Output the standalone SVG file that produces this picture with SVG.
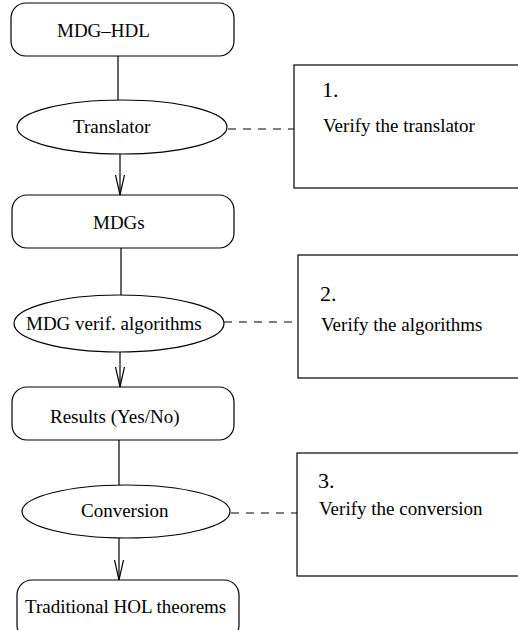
<svg xmlns="http://www.w3.org/2000/svg" width="518" height="630" viewBox="0 0 518 630">
<defs>
<style>
.n{fill:#fff;stroke:#000;stroke-width:1.2}
.c{fill:none;stroke:#000;stroke-width:1.2}
.d{fill:none;stroke:#000;stroke-width:1.2;stroke-dasharray:8,7}
.t{font-family:"Liberation Serif","Times New Roman",serif;font-size:19px;fill:#000}
.k{font-family:"Liberation Serif","Times New Roman",serif;font-size:22px;fill:#000}
</style>
<marker id="ah" viewBox="0 0 20 10" refX="20" refY="5" markerWidth="20" markerHeight="10" markerUnits="userSpaceOnUse" orient="auto">
<path d="M0,0.5 L20,5 L0,9.5" fill="none" stroke="#000" stroke-width="1.2"/>
</marker>
</defs>
<rect width="518" height="630" fill="#fff"/>
<g id="connectors">
<line class="c" x1="118" y1="56" x2="118" y2="100"/>
<line class="c" x1="120" y1="154" x2="120" y2="195" marker-end="url(#ah)"/>
<line class="c" x1="121" y1="248" x2="121" y2="295"/>
<line class="c" x1="120" y1="352" x2="120" y2="387" marker-end="url(#ah)"/>
<line class="c" x1="119" y1="440" x2="119" y2="485"/>
<line class="c" x1="119" y1="538" x2="119" y2="580" marker-end="url(#ah)"/>
<line class="d" x1="228" y1="129" x2="294" y2="129"/>
<line class="d" x1="224" y1="322" x2="298" y2="322"/>
<line class="d" x1="231" y1="513" x2="297" y2="513"/>
</g>
<g id="mdghdl">
<rect class="n" x="11" y="3" width="223" height="53" rx="15"/>
<text class="t" x="57" y="37">MDG–HDL</text>
</g>
<g id="translator">
<ellipse class="n" cx="122" cy="127" rx="105" ry="27"/>
<text class="t" x="73" y="133">Translator</text>
</g>
<g id="mdgs">
<rect class="n" x="12" y="195" width="222" height="53" rx="15"/>
<text class="t" x="93" y="229">MDGs</text>
</g>
<g id="algorithms">
<ellipse class="n" cx="119" cy="323.5" rx="105" ry="28.5"/>
<text class="t" x="26" y="330">MDG verif. algorithms</text>
</g>
<g id="results">
<rect class="n" x="12" y="387" width="222" height="53" rx="15"/>
<text class="t" x="50" y="423">Results (Yes/No)</text>
</g>
<g id="conversion">
<ellipse class="n" cx="126" cy="511.5" rx="104" ry="26.5"/>
<text class="t" x="81" y="517">Conversion</text>
</g>
<g id="hol">
<rect class="n" x="17" y="580" width="222" height="60" rx="15"/>
<text class="t" x="25" y="613">Traditional HOL theorems</text>
</g>
<g id="note1">
<rect class="n" x="294" y="65" width="240" height="123"/>
<text class="k" x="322" y="97">1.</text>
<text class="t" x="323" y="132">Verify the translator</text>
</g>
<g id="note2">
<rect class="n" x="298" y="255" width="240" height="123"/>
<text class="k" x="320" y="301">2.</text>
<text class="t" x="321" y="331">Verify the algorithms</text>
</g>
<g id="note3">
<rect class="n" x="297" y="453" width="240" height="123"/>
<text class="k" x="318" y="488">3.</text>
<text class="t" x="319" y="515">Verify the conversion</text>
</g>
</svg>
